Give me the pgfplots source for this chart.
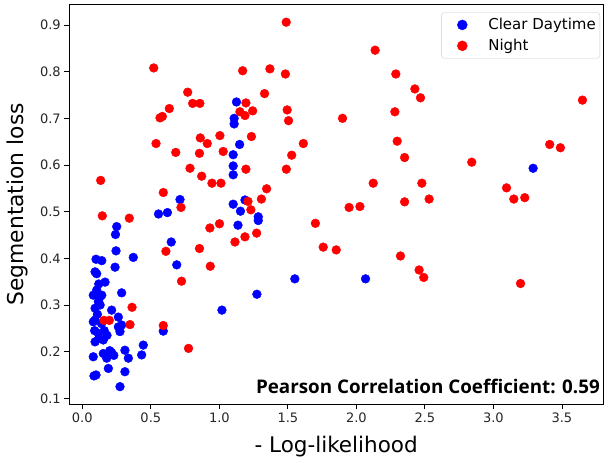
\documentclass[border=0pt]{standalone}
\usepackage{fontspec}
\setmainfont{DejaVu Sans}
\newfontfamily\pearsonfont{Open Sans}
\usepackage{pgfplots}
\pgfplotsset{compat=1.18}
\begin{document}
\begin{tikzpicture}
\begin{axis}[
  scale only axis,
  width=533.7pt, height=399.3pt,
  at={(0pt,0pt)}, anchor=south west,
  xmin=-0.095, xmax=3.80,
  ymin=0.0878, ymax=0.9435,
  xtick={0,0.5,1,1.5,2,2.5,3,3.5},
  ytick={0.1,0.2,0.3,0.4,0.5,0.6,0.7,0.8,0.9},
  xticklabels={0.0,0.5,1.0,1.5,2.0,2.5,3.0,3.5},
  yticklabels={0.1,0.2,0.3,0.4,0.5,0.6,0.7,0.8,0.9},
  xtick pos=bottom, ytick pos=left,
  tick align=outside,
  major tick length=5pt,
  every tick/.style={black, line width=0.8pt},
  axis line style={black, line width=0.8pt},
  tick label style={font=\fontsize{13}{15}\selectfont, text=black!85},
  xlabel={- Log-likelihood},
  ylabel={Segmentation loss},
  xlabel style={font=\fontsize{21.5}{24}\selectfont, at={(axis description cs:0.5,-0.107)}, anchor=center},
  ylabel style={font=\fontsize{21.8}{24}\selectfont, at={(axis description cs:-0.098,0.5)}, anchor=center},
  legend cell align=left,
  legend style={at={(rel axis cs:0.9944,0.981)}, anchor=north east,
    draw=black!20, rounded corners=3pt, fill=white, fill opacity=0.8, text opacity=1,
    font=\fontsize{15}{18}\selectfont, inner xsep=2pt, inner ysep=4pt, row sep=4pt},
  legend image code/.code={\path[draw=none] (0pt,-5pt) -- (43pt,5pt); \draw[#1, fill opacity=1, draw opacity=1, mark size=5pt] plot coordinates {(19pt,0pt)};},
]
\addplot[only marks, mark=*, mark size=4.4pt, mark options={draw=blue, fill=blue, fill opacity=1, draw opacity=1}] coordinates {
(1.125,0.735) (1.108,0.700) (1.108,0.688) (1.148,0.644) (1.101,0.622) (1.101,0.598)
(1.101,0.579) (1.187,0.525) (1.101,0.516) (1.154,0.501) (1.284,0.489) (1.284,0.481)
(1.136,0.471) (0.713,0.526) (0.556,0.495) (0.621,0.498) (0.649,0.435) (0.689,0.386)
(0.591,0.244) (1.019,0.289) (1.274,0.323) (1.551,0.356) (2.067,0.356) (3.290,0.593)
(0.251,0.468) (0.242,0.451)
(0.246,0.416) (0.372,0.402) (0.100,0.398) (0.142,0.395) (0.239,0.381) (0.093,0.371)
(0.105,0.367) (0.166,0.349) (0.287,0.326) (0.105,0.332) (0.080,0.321) (0.142,0.321)
(0.117,0.307) (0.093,0.293) (0.214,0.289) (0.263,0.274) (0.093,0.268) (0.287,0.257)
(0.080,0.264) (0.263,0.253) (0.117,0.239) (0.275,0.243) (0.093,0.221) (0.153,0.225)
(0.445,0.214) (0.080,0.189) (0.153,0.196) (0.214,0.198) (0.311,0.203) (0.336,0.186)
(0.178,0.186) (0.433,0.193) (0.190,0.164) (0.311,0.157) (0.100,0.150) (0.275,0.125)
(0.120,0.345) (0.130,0.300) (0.110,0.280) (0.140,0.260) (0.160,0.245) (0.120,0.228)
(0.200,0.202) (0.230,0.192) (0.085,0.148) (0.180,0.235) (0.090,0.245) (0.125,0.315)
};
\addlegendentry{Clear Daytime\hspace{3pt}}
\addplot[only marks, mark=*, mark size=4.4pt, mark options={draw=red, fill=red, fill opacity=1, draw opacity=1}] coordinates {
(1.488,0.906) (2.137,0.846) (0.521,0.808) (1.170,0.802) (1.369,0.806) (1.482,0.795)
(2.288,0.795) (2.427,0.763) (2.468,0.744) (3.650,0.739) (0.769,0.756) (0.805,0.732)
(0.858,0.732) (0.635,0.721) (0.584,0.704) (0.567,0.701) (1.330,0.753) (1.194,0.733)
(1.150,0.714) (1.243,0.716) (1.187,0.706) (1.495,0.718) (1.505,0.695) (1.899,0.700)
(2.281,0.714) (0.538,0.646) (0.682,0.627) (0.861,0.658) (0.912,0.646) (1.004,0.663)
(1.234,0.661) (1.613,0.646) (2.298,0.651) (0.786,0.593) (0.855,0.625) (1.028,0.629)
(1.528,0.621) (2.352,0.616) (0.871,0.576) (0.946,0.561) (1.012,0.561) (1.194,0.591)
(1.489,0.591) (1.345,0.549) (1.307,0.527) (1.209,0.522) (1.230,0.504) (0.591,0.541)
(0.720,0.509) (0.134,0.567) (0.146,0.491) (0.343,0.486) (2.123,0.561) (1.947,0.509)
(2.026,0.511) (2.478,0.561) (2.842,0.606) (3.411,0.644) (3.489,0.637) (2.352,0.521)
(2.531,0.527) (3.096,0.551) (3.149,0.527) (3.229,0.530) (1.701,0.475) (1.001,0.474)
(0.931,0.465) (1.272,0.454) (1.187,0.446) (1.114,0.435) (1.758,0.424) (1.853,0.418)
(2.322,0.405) (2.458,0.375) (2.492,0.359) (3.198,0.346) (0.855,0.421) (0.610,0.415)
(0.934,0.383) (0.724,0.351) (0.775,0.207) (0.363,0.295) (0.158,0.267) (0.197,0.267)
(0.348,0.258) (0.591,0.256)
};
\addlegendentry{Night}
\node[anchor=base east, font=\pearsonfont\bfseries\fontsize{18.8}{22}\selectfont, inner sep=0pt]
  at (rel axis cs:0.9944,0.0275) {Pearson Correlation Coefficient: 0.59};
\end{axis}
\pgfresetboundingbox
\useasboundingbox (-69.3pt,-56pt) rectangle (534.7pt,404pt);
\end{tikzpicture}
\end{document}
